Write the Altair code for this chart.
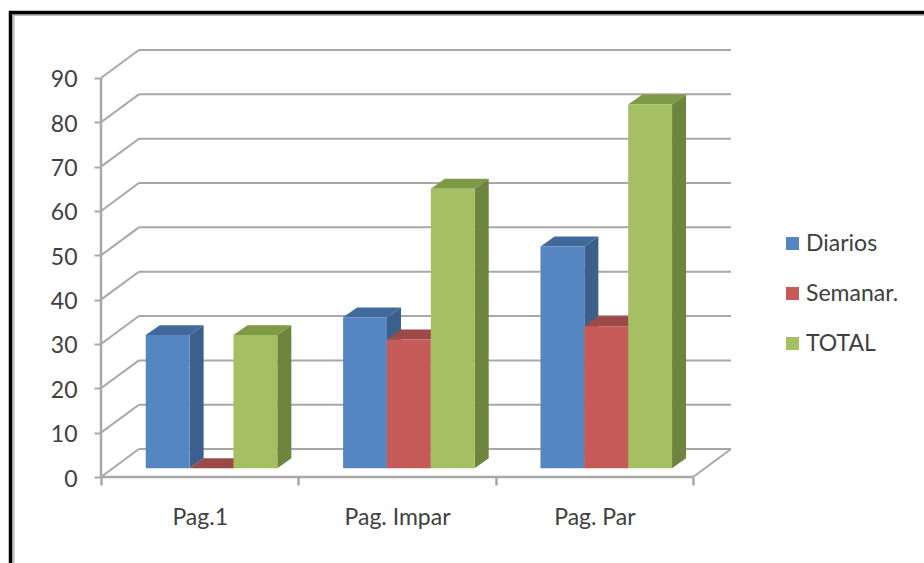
import altair as alt
import pandas as pd

# Values per series, one for each page group
categories = ["Pag.1", "Pag. Impar", "Pag. Par"]
series = ["Diarios", "Semanar.", "TOTAL"]
diarios = [30, 34, 50]
semanar = [0, 29, 32]
total = [30, 63, 82]
y_ticks = [0, 10, 20, 30, 40, 50, 60, 70, 80, 90]

front_colors = ["#5686c1", "#c65a58", "#a4c062"]
side_colors = ["#3d5f8d", "#8f403e", "#6f843f"]
top_colors = ["#41699b", "#9c4a48", "#7f9a47"]

GRID = "#a8a8a8"
TEXT = "#404040"
FONT = "Lato"

# Oblique projection, in data units: x is one unit per category, y is the value
WALL_DX, WALL_DY = 0.192, 6.3     # depth of the chart box
FLOOR_DX, FLOOR_DY = 0.06, 2.0    # bars stand part way back on the floor
BAR_DX, BAR_DY = 0.071, 2.25      # depth of each bar
BAR_W = 1 / 4.5                   # gap width of 150 %
MARGIN = 0.75 * BAR_W

x_scale = alt.Scale(domain=[0, 3 + WALL_DX], nice=False, zero=False)
y_scale = alt.Scale(domain=[0, 90 + WALL_DY], nice=False, zero=False)
X = lambda f, **kw: alt.X(f, type="quantitative", scale=x_scale, **kw)
Y = lambda f, **kw: alt.Y(f, type="quantitative", scale=y_scale, **kw)

# Box: back wall, left wall and floor lines
back = pd.DataFrame({"x": [WALL_DX] * len(y_ticks), "x2": [3 + WALL_DX] * len(y_ticks), "y": y_ticks})
back["y"] = back["y"] + WALL_DY
back_rules = alt.Chart(back).mark_rule(color=GRID, strokeWidth=2).encode(
    X("x"), x2="x2", y=Y("y"))

left = pd.DataFrame({"x": [0.0] * len(y_ticks), "x2": [WALL_DX] * len(y_ticks),
                     "y": y_ticks, "y2": [v + WALL_DY for v in y_ticks]})
left_rules = alt.Chart(left).mark_rule(color=GRID, strokeWidth=2).encode(
    X("x"), x2="x2", y=Y("y"), y2="y2")

floor_right = alt.Chart(pd.DataFrame({"x": [3.0], "x2": [3 + WALL_DX], "y": [0.0], "y2": [WALL_DY]})
                        ).mark_rule(color=GRID, strokeWidth=2).encode(X("x"), x2="x2", y=Y("y"), y2="y2")
front_axis = alt.Chart(pd.DataFrame({"x": [0.0], "x2": [3.0], "y": [0.0]})
                       ).mark_rule(color=GRID, strokeWidth=2.5).encode(X("x"), x2="x2", y=Y("y"))
value_axis = alt.Chart(pd.DataFrame({"x": [0.0], "y": [0.0], "y2": [90.0]})
                       ).mark_rule(color=GRID, strokeWidth=2.5).encode(X("x"), y=Y("y"), y2="y2")

# Category labels sit between the ticks; only whole positions show a tick
label_expr = " : ".join(
    f"datum.value == {i + 0.5} ? '{c}'" for i, c in enumerate(categories)) + " : ''"
axes = alt.Chart(pd.DataFrame({"x": [0.0], "y": [0.0]})).mark_point(opacity=0).encode(
    x=X("x", axis=alt.Axis(
        values=[0, 0.5, 1, 1.5, 2, 2.5, 3], labelExpr=label_expr, title=None, grid=False,
        domain=False, tickColor=GRID, tickWidth=2.5, tickSize=8,
        tickOpacity=alt.condition("datum.value % 1 == 0", alt.value(1), alt.value(0)),
        labelFont=FONT, labelFontSize=23, labelColor=TEXT, labelPadding=21,
        labelFlush=False, labelOverlap=False, labelBound=False)),
    y=Y("y", axis=alt.Axis(
        values=y_ticks, title=None, grid=False, domain=False, tickColor=GRID,
        tickWidth=2, tickSize=7, labelFont=FONT, labelFontSize=23, labelColor=TEXT,
        labelPadding=17, labelOffset=2, labelOverlap=False, labelBound=False)),
)


def bar_tables(values, offset):
    """Outline tables for the side and top face of one series' bars."""
    side, top, front = [], [], []
    for i, (cat, v) in enumerate(zip(categories, values)):
        x0 = i + MARGIN + offset * BAR_W + FLOOR_DX
        x1 = x0 + BAR_W
        y0 = FLOOR_DY
        yv = v + FLOOR_DY
        front.append({"category": cat, "x": x0, "x2": x1, "y": y0, "y2": yv, "series": series[offset]})
        side += [
            {"category": cat, "x": x1, "y": y0, "y2": yv},
            {"category": cat, "x": x1 + BAR_DX, "y": y0 + BAR_DY, "y2": yv + BAR_DY},
        ]
        top += [
            {"category": cat, "x": x0, "y": yv, "y2": yv},
            {"category": cat, "x": x0 + BAR_DX, "y": yv, "y2": yv + BAR_DY},
            {"category": cat, "x": x1, "y": yv, "y2": yv + BAR_DY},
            {"category": cat, "x": x1 + BAR_DX, "y": yv + BAR_DY, "y2": yv + BAR_DY},
        ]
    return pd.DataFrame(side), pd.DataFrame(top), pd.DataFrame(front)


color = alt.Color(
    "series:N",
    scale=alt.Scale(domain=series, range=front_colors),
    legend=alt.Legend(
        title=None, orient="none", legendX=680, legendY=182, symbolType="square",
        symbolSize=170, symbolStrokeWidth=0, labelFont=FONT, labelFontSize=23,
        labelColor=TEXT, rowPadding=26, labelOffset=2),
)

# Each bar paints side, top, then front, and later series cover earlier ones
bars = []
for k, values in enumerate([diarios, semanar, total]):
    side, top, front = bar_tables(values, k)
    for table, fill in ((side, side_colors[k]), (top, top_colors[k])):
        bars.append(alt.Chart(table).mark_area(color=fill, orient="vertical").encode(
            X("x"), y=Y("y"), y2="y2", detail="category:N"))
    bars.append(alt.Chart(front).mark_rect().encode(X("x"), x2="x2", y=Y("y"), y2="y2", color=color))

# Black frame with a soft inner edge, running off the right and bottom of the page
frame_outer = alt.Chart(pd.DataFrame({"n": [0]})).mark_rect(
    fill="transparent", stroke="#000000", strokeWidth=3.5).encode(
    x=alt.value(-90.5), x2=alt.value(900), y=alt.value(-37.5), y2=alt.value(600))
frame_inner = alt.Chart(pd.DataFrame({"n": [0]})).mark_rect(
    fill="transparent", stroke="#b8b8b8", strokeWidth=2).encode(
    x=alt.value(-87.5), x2=alt.value(900), y=alt.value(-35), y2=alt.value(600))

chart = alt.layer(
    frame_inner, frame_outer, back_rules, left_rules, floor_right, front_axis, value_axis,
    axes, *bars,
).properties(
    width=630, height=427,
    padding={"left": 101, "top": 50, "right": 193, "bottom": 86},
    autosize=alt.AutoSizeParams(type="none"),
    background="white",
).configure_view(stroke=None)

chart.save("out.html", embed_options={"renderer": "svg", "actions": False})
